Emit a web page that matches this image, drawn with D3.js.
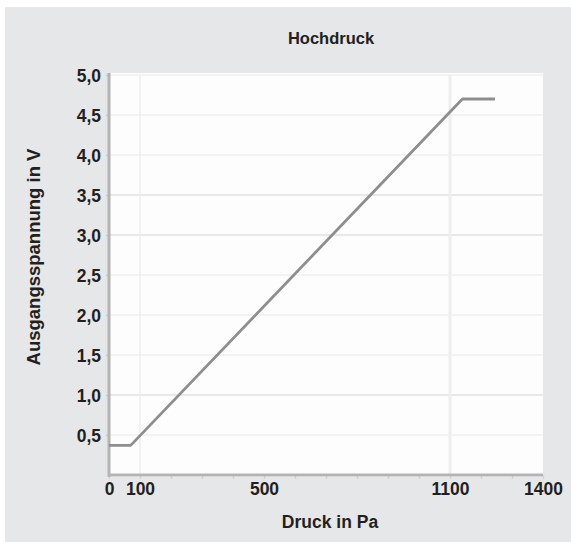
<!DOCTYPE html>
<html>
<head>
<meta charset="utf-8">
<script src="https://cdn.jsdelivr.net/npm/d3@7/dist/d3.min.js"></script>
<style>
  html, body { margin: 0; padding: 0; background: #ffffff; }
  svg { display: block; }
  text { font-family: "Liberation Sans", Arial, sans-serif; font-weight: bold; fill: #231f20; }
</style>
</head>
<body>
<svg id="chart" width="571" height="542"></svg>
<script>
// Kennlinie: Ausgangsspannung über Druck
const pressure = [0, 70, 1140, 1245];
const voltage = [0.37, 0.37, 4.7, 4.7];

const xTickLabels = [0, 100, 500, 1100, 1400];
const xMinorTicks = d3.range(0, 1401, 100);
const yTickValues = [0.5, 1.0, 1.5, 2.0, 2.5, 3.0, 3.5, 4.0, 4.5, 5.0];
const xGridValues = [100, 1100];

const title = "Hochdruck";
const xTitle = "Druck in Pa";
const yTitle = "Ausgangsspannung in V";

const W = 571, H = 542;
const plot = { left: 109, right: 543, top: 75, bottom: 475 };

const svg = d3.select("#chart");

// Hintergrundfläche
svg.append("rect")
  .attr("x", 5).attr("y", 7)
  .attr("width", W - 5).attr("height", H - 7)
  .attr("fill", "#e6e7e8");

const x = d3.scaleLinear().domain([0, 1400]).range([plot.left, plot.right]);
const y = d3.scaleLinear().domain([0, 5]).range([plot.bottom, plot.top]);

// weiße Zeichenfläche
svg.append("rect")
  .attr("x", plot.left).attr("y", plot.top - 2)
  .attr("width", plot.right - plot.left)
  .attr("height", plot.bottom - plot.top + 4)
  .attr("fill", "#fdfdfd");

const defs = svg.append("defs");
defs.append("filter").attr("id", "soft")
  .append("feGaussianBlur").attr("stdDeviation", 0.6);

// Gitterlinien
const grid = svg.append("g").attr("filter", "url(#soft)");
grid.selectAll("line.h")
  .data(yTickValues)
  .join("line")
  .attr("class", "h")
  .attr("x1", plot.left).attr("x2", plot.right)
  .attr("y1", d => y(d)).attr("y2", d => y(d))
  .attr("stroke", d => (d === 3.5 || d === 3.0 || d === 1.0) ? "#e0e0e0" : "#efefef")
  .attr("stroke-width", 1.5);
grid.selectAll("line.v")
  .data(xGridValues)
  .join("line")
  .attr("class", "v")
  .attr("x1", d => x(d)).attr("x2", d => x(d))
  .attr("y1", plot.top).attr("y2", plot.bottom)
  .attr("stroke", "#eeeeee")
  .attr("stroke-width", d => d === 1100 ? 3 : 1.5);

// Achsen
const fmt = v => d3.format(".1f")(v).replace(".", ",");

const yAxis = svg.append("g")
  .attr("transform", `translate(${plot.left},0)`)
  .call(d3.axisLeft(y).tickValues(yTickValues).tickFormat(fmt).tickSize(3).tickPadding(5));
yAxis.select(".domain").remove();
yAxis.selectAll(".tick line").attr("stroke", "#c8c8c8").attr("stroke-width", 1.5);
yAxis.selectAll(".tick text")
  .attr("font-size", 17.5).attr("dy", "0.36em")
  .style("font-family", "Liberation Sans, Arial, sans-serif")
  .style("font-weight", "bold").attr("fill", "#231f20");

const xMinor = svg.append("g")
  .attr("transform", `translate(0,${plot.bottom})`)
  .call(d3.axisBottom(x).tickValues(xMinorTicks).tickFormat("").tickSize(4));
xMinor.select(".domain").remove();
xMinor.selectAll(".tick line").attr("stroke", "#d2d2d2").attr("stroke-width", 1.5);

const xAxis = svg.append("g")
  .attr("transform", `translate(0,${plot.bottom})`)
  .call(d3.axisBottom(x).tickValues(xTickLabels).tickFormat(d3.format("d")).tickSize(0).tickPadding(8));
xAxis.select(".domain").remove();
xAxis.selectAll(".tick text")
  .attr("font-size", 17.5).attr("dy", "0.71em")
  .style("font-family", "Liberation Sans, Arial, sans-serif")
  .style("font-weight", "bold").attr("fill", "#231f20");

const axes = svg.append("g").attr("filter", "url(#soft)");
axes.append("line")
  .attr("x1", plot.left).attr("x2", plot.left)
  .attr("y1", plot.top - 2).attr("y2", plot.bottom + 2)
  .attr("stroke", "#b4b4b4").attr("stroke-width", 3);
axes.append("line")
  .attr("x1", plot.left).attr("x2", plot.right)
  .attr("y1", plot.bottom).attr("y2", plot.bottom)
  .attr("stroke", "#b4b4b4").attr("stroke-width", 3);

// Kennlinie
const points = pressure.map((p, i) => [p, voltage[i]]);
svg.append("path")
  .datum(points)
  .attr("d", d3.line().x(d => x(d[0])).y(d => y(d[1])))
  .attr("fill", "none")
  .attr("stroke", "#8e8e8e")
  .attr("stroke-width", 2.8)
  .attr("stroke-linejoin", "round")
  .attr("filter", "url(#soft)");

// Beschriftungen
svg.append("text")
  .attr("x", 331).attr("y", 44)
  .attr("text-anchor", "middle")
  .attr("font-size", 16.5)
  .text(title);

svg.append("text")
  .attr("x", (plot.left + plot.right) / 2 + 4).attr("y", 528)
  .attr("text-anchor", "middle")
  .attr("font-size", 17.5)
  .text(xTitle);

svg.append("text")
  .attr("transform", `translate(40,257) rotate(-90)`)
  .attr("text-anchor", "middle")
  .attr("font-size", 18.5)
  .text(yTitle);
</script>
</body>
</html>
